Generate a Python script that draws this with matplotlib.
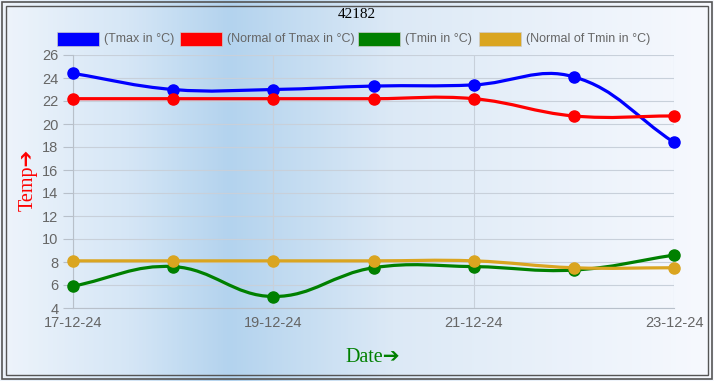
import numpy as np
import matplotlib.pyplot as plt
from matplotlib.path import Path
from matplotlib.patches import PathPatch, Rectangle
from matplotlib.colors import LinearSegmentedColormap

# data
dates = ['17-12-24', '18-12-24', '19-12-24', '20-12-24', '21-12-24', '22-12-24', '23-12-24']
tmax = [24.4, 23.0, 23.0, 23.3, 23.4, 24.1, 18.4]
tmax_normal = [22.2, 22.2, 22.2, 22.2, 22.2, 20.7, 20.7]
tmin = [5.9, 7.6, 5.0, 7.5, 7.6, 7.3, 8.6]
tmin_normal = [8.1, 8.1, 8.1, 8.1, 8.1, 7.5, 7.5]

series = [
    ('(Tmax in °C)', tmax, '#0000ff'),
    ('(Normal of Tmax in °C)', tmax_normal, '#ff0000'),
    ('(Tmin in °C)', tmin, '#008000'),
    ('(Normal of Tmin in °C)', tmin_normal, '#daa520'),
]

fig = plt.figure(figsize=(7.14, 3.81), dpi=100)

# background gradient
bg = fig.add_axes([0, 0, 1, 1], zorder=-10)
cmap = LinearSegmentedColormap.from_list('bg', [(0, '#eef4fb'), (0.18, '#d5e6f6'),
                                                (0.32, '#b3d3ee'), (0.55, '#dce9f6'),
                                                (1, '#f7f9fe')])
bg.imshow(np.linspace(0, 1, 400).reshape(1, -1), aspect='auto', cmap=cmap,
          extent=[0, 1, 0, 1])
bg.set_axis_off()

# double border
for pad, lw in [(0.003, 1.2), (0.009, 1.0)]:
    fig.add_artist(Rectangle((pad, pad * 714 / 381), 1 - 2 * pad, 1 - 2 * pad * 714 / 381,
                             transform=fig.transFigure, fill=False,
                             edgecolor='#555555', linewidth=lw))

ax = fig.add_axes([73 / 714, 1 - 308 / 381, (674 - 73) / 714, (308 - 55) / 381])
ax.patch.set_alpha(0)

x = np.arange(len(dates))
ax.set_xlim(0, len(dates) - 1)
ax.set_ylim(4, 26)

# pixel scales for spline control points
sx = 601 / (len(dates) - 1)
sy = 253 / 22


def spline_path(xs, ys, t=0.4):
    px = np.array(xs) * sx
    py = np.array(ys) * sy
    n = len(px)
    cps = []
    for i in range(n):
        p = (px[max(i - 1, 0)], py[max(i - 1, 0)])
        c = (px[i], py[i])
        nx = (px[min(i + 1, n - 1)], py[min(i + 1, n - 1)])
        d01 = np.hypot(c[0] - p[0], c[1] - p[1])
        d12 = np.hypot(nx[0] - c[0], nx[1] - c[1])
        tot = d01 + d12 if d01 + d12 else 1
        fa = t * d01 / tot
        fb = t * d12 / tot
        prev_cp = (c[0] - fa * (nx[0] - p[0]), c[1] - fa * (nx[1] - p[1]))
        next_cp = (c[0] + fb * (nx[0] - p[0]), c[1] + fb * (nx[1] - p[1]))
        cps.append((prev_cp, next_cp))
    verts = [(px[0], py[0])]
    codes = [Path.MOVETO]
    for i in range(1, n):
        verts += [cps[i - 1][1], cps[i][0], (px[i], py[i])]
        codes += [Path.CURVE4] * 3
    verts = [(vx / sx, vy / sy) for vx, vy in verts]
    return Path(verts, codes)


for label, vals, color in series:
    ax.add_patch(PathPatch(spline_path(x, vals), fill=False, edgecolor=color,
                           linewidth=2.3, zorder=3))
    ax.plot(x, vals, 'o', color=color, markersize=8, zorder=4, clip_on=False)

ax.set_yticks(range(4, 27, 2))
ax.set_xticks(x[::2])
ax.set_xticklabels(dates[::2])
ax.grid(True, color='#c8d0da', linewidth=0.8)
for side in ['top', 'right']:
    ax.spines[side].set_visible(False)
for side in ['left', 'bottom']:
    ax.spines[side].set_color('#b8c0ca')
ax.tick_params(colors='#b8c0ca', labelcolor='#666666', labelsize=10.5, length=7)
ax.tick_params(axis='x', length=0, pad=6)
for lbl in ax.get_xticklabels() + ax.get_yticklabels():
    lbl.set_family('Liberation Sans')

fig.text(0.5, 1 - 15 / 381, '42182', ha='center', va='center',
         fontsize=11, family='Liberation Serif')
fig.text(28 / 714, 1 - 180 / 381, 'Temp➔', rotation=90, ha='center', va='center',
         fontsize=14.5, color='#ff0000', family=['Liberation Serif', 'DejaVu Sans'])
fig.text(373 / 714, 1 - 358 / 381, 'Date➔', ha='center', va='center',
         fontsize=14.5, color='#008000', family=['Liberation Serif', 'DejaVu Sans'])

# legend drawn as boxes + text
box_x = [57, 180, 358, 479]
for bx, (label, vals, color) in zip(box_x, series):
    fig.add_artist(Rectangle((bx / 714, 1 - 46 / 381), 42 / 714, 14 / 381,
                             transform=fig.transFigure, facecolor=color,
                             edgecolor='#cccccc', linewidth=0.5))
    fig.text((bx + 47) / 714, 1 - 39 / 381, label, ha='left', va='center',
             fontsize=9, color='#666666', family='Liberation Sans')

fig.savefig('out.png', dpi=100)
